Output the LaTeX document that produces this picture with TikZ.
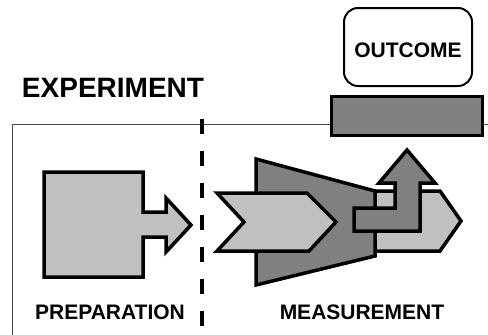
\documentclass[tikz,border=0pt]{standalone}
\usepackage{fontspec}
\setmainfont{Liberation Sans}
\usetikzlibrary{positioning}
\definecolor{lightgray}{HTML}{C0C0C0}
\definecolor{darkgray}{HTML}{808080}
\begin{document}
\begin{tikzpicture}[x=1pt, y=-1pt, line join=miter,
    light/.style={draw, line width=3.5pt, fill=lightgray},
    dark/.style={draw, line width=3.5pt, fill=darkgray},
    every node/.style={font=\fontsize{21}{23}\selectfont\bfseries, inner sep=0pt}]

    \useasboundingbox (0,0) rectangle (488,335);

    % Experiment frame
    \draw[line width=1pt, black!70] (12,335) -- (12,124) -- (488,124);
    \node (exp) at (113,88) {\fontsize{28}{30}\selectfont EXPERIMENT};

    % Dashed border between the two stages
    \draw[line width=3.5pt, dash pattern=on 15pt off 17pt] (202,119) -- (202,335);

    % Preparation
    \draw[light] (44,172) -- (143,172) -- (143,212) -- (166,212) -- (166,198) -- (191,225)
        -- (166,252) -- (166,237) -- (143,237) -- (143,277) -- (44,277) -- cycle;
    \node (prep) at (110,312) {PREPARATION};

    % Measurement
    \draw[light] (330,191) -- (440,191) -- (461,221) -- (440,251) -- (330,251) -- cycle;
    \draw[dark] (256,159) -- (375,191) -- (375,256) -- (256,285) -- cycle;
    \draw[light] (217,193) -- (307,193) -- (336,222) -- (309,251) -- (217,251) -- (244,222) -- cycle;
    \draw[dark] (354,208) -- (395,208) -- (395,183) -- (379,183) -- (407,150) -- (435,183)
        -- (420,183) -- (420,231) -- (354,231) -- cycle;
    \node (meas) at (362,312) {MEASUREMENT};

    % Outcome
    \node (meter) at (407,116) [dark, minimum width=151, minimum height=39] {};
    \node (outcome) at (408,47) [draw, line width=2pt, rounded corners=14pt, text height=22pt,
        minimum width=128, minimum height=78] {OUTCOME};

\end{tikzpicture}
\end{document}
